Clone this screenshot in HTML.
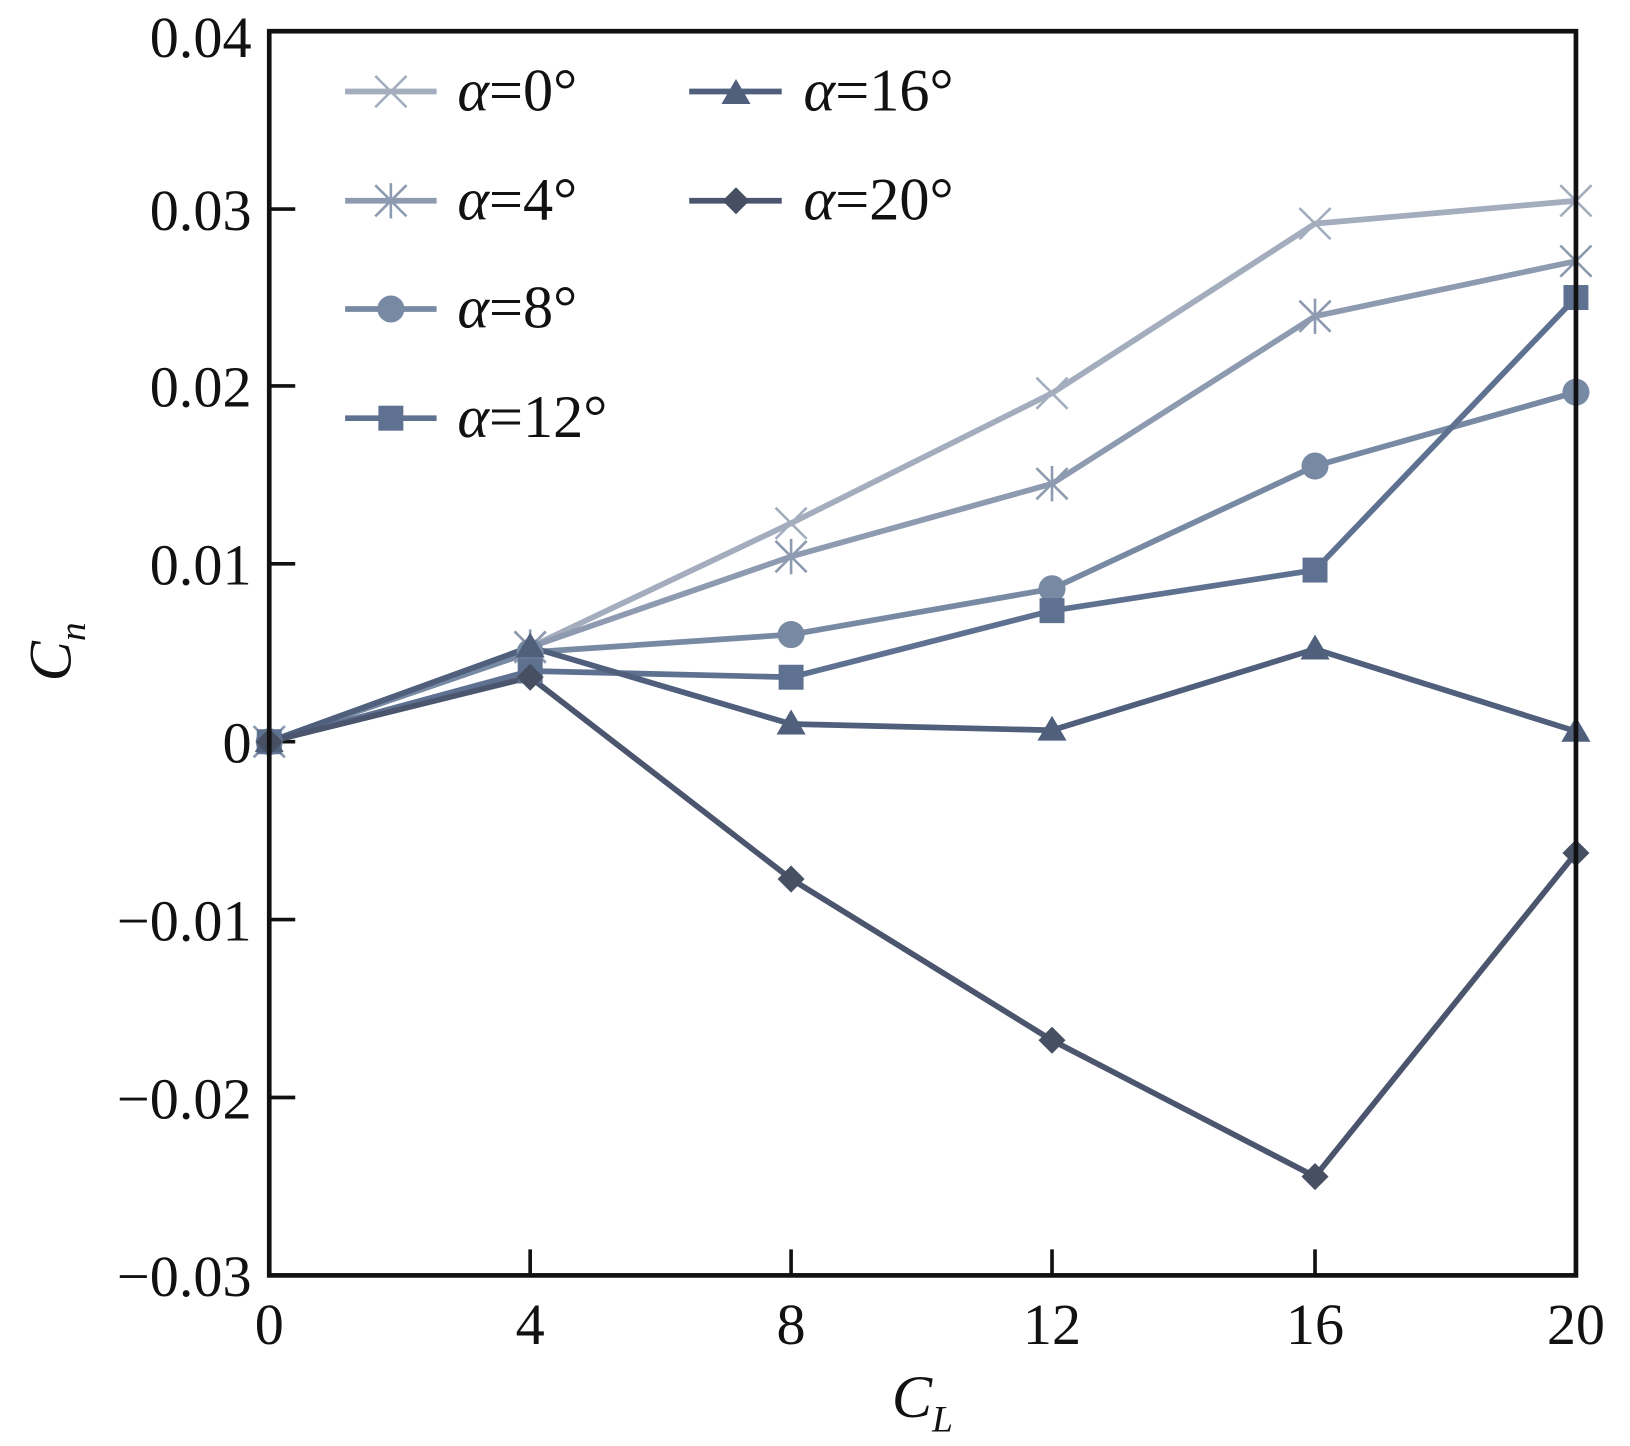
<!DOCTYPE html>
<html><head><meta charset="utf-8"><style>html,body{margin:0;padding:0;background:#fff}svg{display:block}text{font-family:"Liberation Serif","Times New Roman",serif}</style></head>
<body>
<svg width="1630" height="1446" viewBox="0 0 1568 1390" preserveAspectRatio="none" xmlns="http://www.w3.org/2000/svg">
<defs>
<g id="mx"><path d="M-15,-15L15,15M-15,15L15,-15" stroke-width="2.5" fill="none"/></g>
<g id="ms"><path d="M-15,-15L15,15M-15,15L15,-15M0,-17V17" stroke-width="2.5" fill="none"/></g>
</defs>
<g fill="#111" font-size="56" text-anchor="end">
<text x="242" y="55">0.04</text><text x="242" y="221">0.03</text><text x="242" y="391">0.02</text><text x="242" y="562">0.01</text><text x="242" y="733">0</text><text x="242" y="904">−0.01</text><text x="242" y="1075">−0.02</text><text x="242" y="1246">−0.03</text>
</g>
<g fill="#111" font-size="56" text-anchor="middle">
<text x="259" y="1292">0</text><text x="510" y="1292">4</text><text x="761" y="1292">8</text><text x="1012" y="1292">12</text><text x="1265" y="1292">16</text><text x="1516" y="1292">20</text>
</g>
<text x="858" y="1362" font-size="58" font-style="italic" fill="#111">C<tspan font-size="36" dy="14">L</tspan></text>
<text transform="translate(68,655) rotate(-90)" font-size="58" font-style="italic" fill="#111">C<tspan font-size="36" dy="14">n</tspan></text>
<g stroke="#111" stroke-width="3.5">
<path d="M259,201h25M259,371h25M259,542h25M259,713h25M259,884h25M259,1055h25"/>
<path d="M510,1226v-25M761,1226v-25M1012,1226v-25M1265,1226v-25"/>
</g>
<g fill="none" stroke-width="5.5" stroke-linejoin="round">
<polyline stroke="#a3adbd" points="259,713 510,622 761,503 1012,378 1265,215 1516,193"/>
<polyline stroke="#8d9ab0" points="259,713 510,622 761,535 1012,465 1265,304 1516,251"/>
<polyline stroke="#7889a3" points="259,713 510,627 761,610 1012,566 1265,448 1516,377"/>
<polyline stroke="#5f7191" points="259,713 510,645 761,651 1012,587 1265,548 1516,286"/>
<polyline stroke="#4f5f7c" points="259,713 510,622 761,696 1012,702 1265,624 1516,703"/>
<polyline stroke="#4b566e" points="259,713 510,651 761,845 1012,1000 1265,1131 1516,820"/>
</g>
<g stroke="#a3adbd"><use href="#mx" x="259" y="713"/><use href="#mx" x="510" y="622"/><use href="#mx" x="761" y="503"/><use href="#mx" x="1012" y="378"/><use href="#mx" x="1265" y="215"/><use href="#mx" x="1516" y="193"/></g>
<g stroke="#8d9ab0"><use href="#ms" x="259" y="713"/><use href="#ms" x="510" y="622"/><use href="#ms" x="761" y="535"/><use href="#ms" x="1012" y="465"/><use href="#ms" x="1265" y="304"/><use href="#ms" x="1516" y="251"/></g>
<g fill="#7889a3"><circle cx="259" cy="713" r="13"/><circle cx="510" cy="627" r="13"/><circle cx="761" cy="610" r="13"/><circle cx="1012" cy="566" r="13"/><circle cx="1265" cy="448" r="13"/><circle cx="1516" cy="377" r="13"/></g>
<g fill="#5f7191"><rect x="247" y="701" width="24" height="24"/><rect x="498" y="633" width="24" height="24"/><rect x="749" y="639" width="24" height="24"/><rect x="1000" y="575" width="24" height="24"/><rect x="1253" y="536" width="24" height="24"/><rect x="1504" y="274" width="24" height="24"/></g>
<g fill="#4f5f7c"><path d="M259,699l14,24h-28z"/><path d="M510,608l14,24h-28z"/><path d="M761,682l14,24h-28z"/><path d="M1012,688l14,24h-28z"/><path d="M1265,610l14,24h-28z"/><path d="M1516,689l14,24h-28z"/></g>
<g fill="#474f63"><path d="M259,700l13,13l-13,13l-13,-13z"/><path d="M510,638l13,13l-13,13l-13,-13z"/><path d="M761,832l13,13l-13,13l-13,-13z"/><path d="M1012,987l13,13l-13,13l-13,-13z"/><path d="M1265,1118l13,13l-13,13l-13,-13z"/><path d="M1516,807l13,13l-13,13l-13,-13z"/></g>
<g stroke-width="5.5" fill="none">
<path stroke="#a3adbd" d="M332,88h88"/><path stroke="#8d9ab0" d="M332,193h88"/><path stroke="#7889a3" d="M332,297h88"/><path stroke="#5f7191" d="M332,402h88"/>
<path stroke="#4f5f7c" d="M663,88h89"/><path stroke="#4b566e" d="M663,193h89"/>
</g>
<use href="#mx" x="376" y="88" stroke="#a3adbd"/>
<use href="#ms" x="376" y="193" stroke="#8d9ab0"/>
<circle cx="376" cy="297" r="13" fill="#7889a3"/>
<rect x="364" y="390" width="24" height="24" fill="#5f7191"/>
<path d="M708,76l14,24h-28z" fill="#4f5f7c"/>
<path d="M708,180l13,13l-13,13l-13,-13z" fill="#474f63"/>
<g font-size="58" fill="#111">
<text x="440" y="106"><tspan font-style="italic">α</tspan>=0°</text>
<text x="440" y="211"><tspan font-style="italic">α</tspan>=4°</text>
<text x="440" y="315"><tspan font-style="italic">α</tspan>=8°</text>
<text x="440" y="420"><tspan font-style="italic">α</tspan>=12°</text>
<text x="773" y="106"><tspan font-style="italic">α</tspan>=16°</text>
<text x="773" y="211"><tspan font-style="italic">α</tspan>=20°</text>
</g>
<rect x="259" y="30" width="1257" height="1196" fill="none" stroke="#111" stroke-width="4.5"/>
</svg>
</body></html>
